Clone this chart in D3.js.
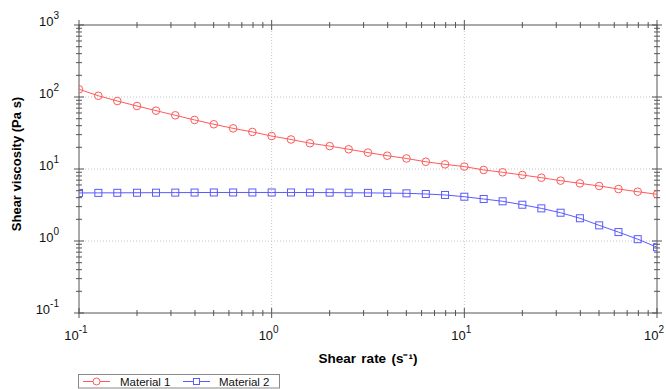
<!DOCTYPE html>
<html>
<head>
<meta charset="utf-8">
<script src="https://cdn.jsdelivr.net/npm/d3@7"></script>
<style>
  html, body { margin: 0; padding: 0; background: #fff; }
  svg { display: block; font-family: "Liberation Sans", Arial, sans-serif; }
</style>
</head>
<body>
<svg id="chart" width="666" height="389"></svg>
<script>
// Shear rate sweep (s^-1), 10 points per decade
const shearRate = [
  0.1, 0.126, 0.158, 0.2, 0.251, 0.316, 0.398, 0.501, 0.631, 0.794,
  1, 1.26, 1.58, 2, 2.51, 3.16, 3.98, 5.01, 6.31, 7.94,
  10, 12.6, 15.8, 20, 25.1, 31.6, 39.8, 50.1, 63.1, 79.4, 100
];
// Shear viscosity (Pa s)
const material1 = [
  128, 104, 88, 75, 64.6, 55.7, 48, 41.8, 36.7, 32.7,
  28.7, 25.7, 22.8, 20.8, 18.8, 16.9, 15.3, 14.0, 12.6, 11.6,
  10.8, 9.7, 9.0, 8.26, 7.57, 6.89, 6.32, 5.81, 5.27, 4.84, 4.45
];
const material2 = [
  4.65, 4.66, 4.67, 4.68, 4.69, 4.70, 4.71, 4.72, 4.72, 4.72,
  4.72, 4.72, 4.71, 4.70, 4.68, 4.66, 4.63, 4.59, 4.50, 4.36,
  4.12, 3.83, 3.56, 3.19, 2.84, 2.47, 2.07, 1.65, 1.33, 1.06, 0.82
];
const seriesNames = ["Material 1", "Material 2"];
const xTickExps = [-1, 0, 1, 2];
const yTickExps = [-1, 0, 1, 2, 3];
const xTitle = "Shear rate (s\u207B\u00B9)";
const yTitle = "Shear viscosity (Pa s)";

const svg = d3.select("#chart");
const m = { left: 79, right: 657, top: 25, bottom: 313 };

const x = d3.scaleLog().domain([0.1, 100]).range([m.left, m.right]);
const y = d3.scaleLog().domain([0.1, 1000]).range([m.bottom, m.top]);

const axisColor = "#555";
const red = "#ff5a5a";
const blue = "#5a5aff";

// dotted grid at decades
const g = svg.append("g");
g.selectAll(".gx").data(xTickExps.slice(1, -1)).join("line")
  .attr("x1", d => x(Math.pow(10, d))).attr("x2", d => x(Math.pow(10, d)))
  .attr("y1", m.top).attr("y2", m.bottom)
  .attr("stroke", "#c4c4c4").attr("stroke-dasharray", "1,2");
g.selectAll(".gy").data(yTickExps.slice(1, -1)).join("line")
  .attr("y1", d => y(Math.pow(10, d))).attr("y2", d => y(Math.pow(10, d)))
  .attr("x1", m.left).attr("x2", m.right)
  .attr("stroke", "#c4c4c4").attr("stroke-dasharray", "1,2");

// frame
svg.append("rect")
  .attr("x", m.left).attr("y", m.top)
  .attr("width", m.right - m.left).attr("height", m.bottom - m.top)
  .attr("fill", "none").attr("stroke", axisColor).attr("stroke-width", 1);

// log ticks: majors at decades, minors at 2..9
function logTicks(lo, hi) {
  const t = [];
  for (let e = lo; e < hi; e++) {
    for (let k = 1; k < 10; k++) t.push({ v: k * Math.pow(10, e), major: k === 1 });
  }
  t.push({ v: Math.pow(10, hi), major: true });
  return t;
}
const xt = logTicks(xTickExps[0], xTickExps[xTickExps.length - 1]);
const yt = logTicks(yTickExps[0], yTickExps[yTickExps.length - 1]);
const tk = svg.append("g").attr("stroke", axisColor).attr("stroke-width", 1);
[m.bottom, m.top].forEach(yy => {
  tk.selectAll(null).data(xt).join("line")
    .attr("x1", d => x(d.v)).attr("x2", d => x(d.v))
    .attr("y1", d => yy - (d.major ? 5 : 3)).attr("y2", d => yy + (d.major ? 5 : 3));
});
[m.left, m.right].forEach(xx => {
  tk.selectAll(null).data(yt).join("line")
    .attr("y1", d => y(d.v)).attr("y2", d => y(d.v))
    .attr("x1", d => xx - (d.major ? 5 : 3)).attr("x2", d => xx + (d.major ? 5 : 3));
});

// tick labels 10^n
function powLabel(sel) {
  sel.append("tspan").text("10");
  sel.append("tspan").attr("font-size", 10).attr("dy", -7).text(d => d);
}
svg.append("g").selectAll("text").data(xTickExps).join("text")
  .attr("x", d => x(Math.pow(10, d)) - 3).attr("y", 340)
  .attr("text-anchor", "middle").attr("font-size", 13).attr("fill", "#111")
  .call(powLabel);
svg.append("g").selectAll("text").data(yTickExps).join("text")
  .attr("x", 59).attr("y", d => y(Math.pow(10, d)) + 1)
  .attr("text-anchor", "end").attr("font-size", 13).attr("fill", "#111")
  .call(powLabel);

// axis titles
svg.append("text").attr("x", 368).attr("y", 363)
  .attr("text-anchor", "middle").attr("font-size", 13.5).attr("font-weight", "bold")
  .attr("word-spacing", 1.5)
  .text(xTitle);
svg.append("text").attr("transform", "translate(21,164) rotate(-90)")
  .attr("text-anchor", "middle").attr("font-size", 13).attr("font-weight", "bold")
  .text(yTitle);

// series
svg.append("defs").append("clipPath").attr("id", "plot")
  .append("rect").attr("x", m.left).attr("y", m.top)
  .attr("width", m.right - m.left).attr("height", m.bottom - m.top);
const plot = svg.append("g").attr("clip-path", "url(#plot)");
const line = d3.line().x(d => x(d[0])).y(d => y(d[1]));

const s1 = d3.zip(shearRate, material1);
const s2 = d3.zip(shearRate, material2);

plot.append("path").datum(s1).attr("d", line)
  .attr("fill", "none").attr("stroke", red).attr("stroke-width", 1);
plot.selectAll(".c").data(s1).join("circle")
  .attr("cx", d => x(d[0])).attr("cy", d => y(d[1])).attr("r", 3.8)
  .attr("fill", "none").attr("stroke", red).attr("stroke-width", 1);

plot.append("path").datum(s2).attr("d", line)
  .attr("fill", "none").attr("stroke", blue).attr("stroke-width", 1);
plot.selectAll(".s").data(s2).join("rect")
  .attr("x", d => x(d[0]) - 3.5).attr("y", d => y(d[1]) - 3.5)
  .attr("width", 7).attr("height", 7)
  .attr("fill", "none").attr("stroke", blue).attr("stroke-width", 1);

// legend
const lg = svg.append("g");
lg.append("rect").attr("x", 78.5).attr("y", 374.5).attr("width", 201).attr("height", 13.5)
  .attr("fill", "#fff").attr("stroke", "#888");
const items = [
  { name: seriesNames[0], color: red, x0: 83, mark: "circle", tx: 120 },
  { name: seriesNames[1], color: blue, x0: 183, mark: "square", tx: 219 }
];
items.forEach(it => {
  lg.append("line").attr("x1", it.x0).attr("x2", it.x0 + 27)
    .attr("y1", 381.5).attr("y2", 381.5).attr("stroke", it.color);
  if (it.mark === "circle") {
    lg.append("circle").attr("cx", it.x0 + 13.5).attr("cy", 381.5).attr("r", 3.5)
      .attr("fill", "#fff").attr("stroke", it.color);
  } else {
    lg.append("rect").attr("x", it.x0 + 10.5).attr("y", 378.5).attr("width", 6).attr("height", 6)
      .attr("fill", "#fff").attr("stroke", it.color);
  }
  lg.append("text").attr("x", it.tx).attr("y", 385.5).attr("font-size", 11.5)
    .attr("fill", "#111").text(it.name);
});
</script>
</body>
</html>
